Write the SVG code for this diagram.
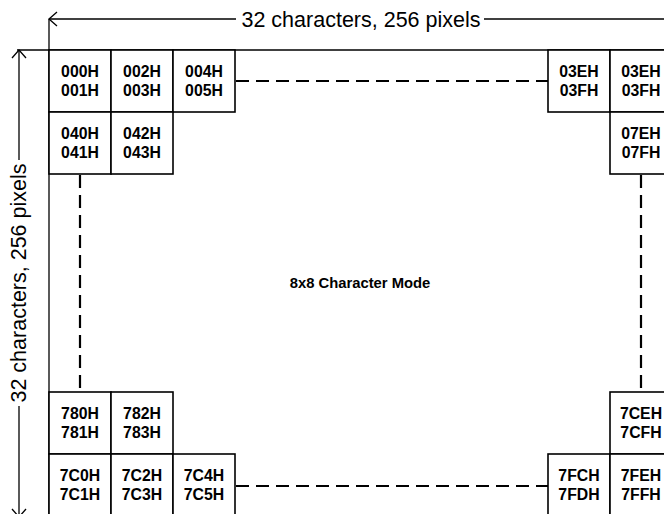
<svg xmlns="http://www.w3.org/2000/svg" width="664" height="514" viewBox="0 0 664 514">
<style>
.cell rect{fill:#fff;stroke:#000;stroke-width:1.6}
.cell text{font-family:"Liberation Sans",Arial,sans-serif;font-weight:bold;font-size:15.8px;text-anchor:middle;fill:#000}
.dash{stroke:#000;stroke-width:2.2;stroke-dasharray:13 7;fill:none}
.dim{stroke:#000;stroke-width:1.3;fill:none}
.dimtext{font-family:"Liberation Sans",Arial,sans-serif;font-size:21.5px;text-anchor:middle;fill:#000}
.title{font-family:"Liberation Sans",Arial,sans-serif;font-weight:bold;font-size:14.8px;text-anchor:middle;fill:#000}
</style>
<rect width="664" height="514" fill="#fff"/>
<g id="connectors">
<line class="dash" x1="236" y1="81" x2="548" y2="81"/>
<line class="dash" x1="236" y1="486" x2="548" y2="486"/>
<line class="dash" x1="80" y1="175" x2="80" y2="392"/>
<line class="dash" x1="641" y1="175" x2="641" y2="392"/>
</g>
<g id="dimensions">
<line class="dim" x1="49" y1="19" x2="236" y2="19"/>
<line class="dim" x1="484" y1="19" x2="664" y2="19"/>
<polyline class="dim" points="57,12 49,19 57,26"/>
<line class="dim" x1="49" y1="19" x2="49" y2="514"/>
<line class="dim" x1="17" y1="50" x2="664" y2="50"/>
<line class="dim" x1="19" y1="50" x2="19" y2="160"/>
<line class="dim" x1="19" y1="406" x2="19" y2="514"/>
<polyline class="dim" points="12,58 19,50 26,58"/>
<polyline class="dim" points="12,509 19,517 26,509"/>
<text class="dimtext" x="361" y="26.5">32 characters, 256 pixels</text>
<text class="dimtext" transform="translate(26,283) rotate(-90)">32 characters, 256 pixels</text>
</g>
<g id="c000" class="cell"><rect x="49" y="50" width="62" height="62"/><text x="80" y="77">000H</text><text x="80" y="96">001H</text></g>
<g id="c002" class="cell"><rect x="111" y="50" width="62" height="62"/><text x="142" y="77">002H</text><text x="142" y="96">003H</text></g>
<g id="c004" class="cell"><rect x="173" y="50" width="62" height="62"/><text x="204" y="77">004H</text><text x="204" y="96">005H</text></g>
<g id="c03E" class="cell"><rect x="548" y="50" width="62" height="62"/><text x="579" y="77">03EH</text><text x="579" y="96">03FH</text></g>
<g id="c03E2" class="cell"><rect x="610" y="50" width="62" height="62"/><text x="641" y="77">03EH</text><text x="641" y="96">03FH</text></g>
<g id="c040" class="cell"><rect x="49" y="112" width="62" height="62"/><text x="80" y="139">040H</text><text x="80" y="158">041H</text></g>
<g id="c042" class="cell"><rect x="111" y="112" width="62" height="62"/><text x="142" y="139">042H</text><text x="142" y="158">043H</text></g>
<g id="c07E" class="cell"><rect x="610" y="112" width="62" height="62"/><text x="641" y="139">07EH</text><text x="641" y="158">07FH</text></g>
<g id="c780" class="cell"><rect x="49" y="392" width="62" height="62"/><text x="80" y="419">780H</text><text x="80" y="438">781H</text></g>
<g id="c782" class="cell"><rect x="111" y="392" width="62" height="62"/><text x="142" y="419">782H</text><text x="142" y="438">783H</text></g>
<g id="c7CE" class="cell"><rect x="610" y="392" width="62" height="62"/><text x="641" y="419">7CEH</text><text x="641" y="438">7CFH</text></g>
<g id="c7C0" class="cell"><rect x="49" y="454" width="62" height="62"/><text x="80" y="481">7C0H</text><text x="80" y="500">7C1H</text></g>
<g id="c7C2" class="cell"><rect x="111" y="454" width="62" height="62"/><text x="142" y="481">7C2H</text><text x="142" y="500">7C3H</text></g>
<g id="c7C4" class="cell"><rect x="173" y="454" width="62" height="62"/><text x="204" y="481">7C4H</text><text x="204" y="500">7C5H</text></g>
<g id="c7FC" class="cell"><rect x="548" y="454" width="62" height="62"/><text x="579" y="481">7FCH</text><text x="579" y="500">7FDH</text></g>
<g id="c7FE" class="cell"><rect x="610" y="454" width="62" height="62"/><text x="641" y="481">7FEH</text><text x="641" y="500">7FFH</text></g>
<g id="mode"><text class="title" x="360" y="288">8x8 Character Mode</text></g>
</svg>
